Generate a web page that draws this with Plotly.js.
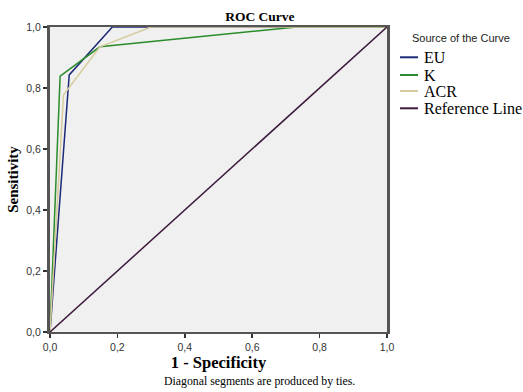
<!DOCTYPE html>
<html>
<head>
<meta charset="utf-8">
<script src="https://cdn.plot.ly/plotly-3.0.1.min.js"></script>
<style>html,body{margin:0;padding:0;background:#fff;}#chart{width:523px;height:392px;}</style>
</head>
<body>
<div id="chart"></div>
<script>
// ROC curve data (x = 1 - Specificity, y = Sensitivity)
const euX  = [0, 0.057, 0.185, 1];
const euY  = [0, 0.843, 1.0, 1];
const kX   = [0, 0.030, 0.148, 0.732, 1];
const kY   = [0, 0.839, 0.935, 1.0, 1];
const acrX = [0, 0.040, 0.148, 0.300, 1];
const acrY = [0, 0.777, 0.935, 1.0, 1];
const refX = [0, 1];
const refY = [0, 1];
const seriesNames = ["EU", "K", "ACR", "Reference Line"];
const tickVals = [0, 0.2, 0.4, 0.6, 0.8, 1.0];
const tickText = ["0,0", "0,2", "0,4", "0,6", "0,8", "1,0"];

const colors = ["#1c2a78", "#2a8c2a", "#d6cb9c", "#3d1a3d"];
const xs = [euX, kX, acrX, refX];
const ys = [euY, kY, acrY, refY];

const traces = seriesNames.map((n, i) => ({
  x: xs[i], y: ys[i], name: n, type: "scatter", mode: "lines",
  line: {color: colors[i], width: 1.5}, hoverinfo: "skip", showlegend: false
}));

const serif = "Liberation Serif, Times New Roman, serif";
const sans = "Liberation Sans, Arial, sans-serif";

// plot area geometry (pixels) used to place the hand-drawn legend
const W = 523, H = 392, L = 50, R = 136, T = 27, B = 60;
const pw = W - L - R, ph = H - T - B;
const px = p => (p - L) / pw;
const py = p => (H - B - p) / ph;

const legendRows = [57.3, 75, 91, 108.3];
const shapes = seriesNames.map((n, i) => ({
  type: "line", xref: "paper", yref: "paper",
  x0: px(400), x1: px(418), y0: py(legendRows[i]), y1: py(legendRows[i]),
  line: {color: colors[i], width: 2}
}));
const annotations = seriesNames.map((n, i) => ({
  text: n, xref: "paper", yref: "paper", x: px(422), y: py(legendRows[i]),
  xanchor: "left", yanchor: "middle", showarrow: false,
  font: {family: serif, size: 16, color: "#000"}
}));
annotations.push({
  text: "Source of the Curve", xref: "paper", yref: "paper", x: px(410), y: py(37.5),
  xanchor: "left", yanchor: "middle", showarrow: false,
  font: {family: sans, size: 11, color: "#222"}
});
annotations.push({
  text: "Diagonal segments are produced by ties.",
  xref: "paper", yref: "paper", x: px(259), y: py(381),
  xanchor: "center", yanchor: "middle", showarrow: false,
  font: {family: serif, size: 11.8, color: "#000"}
});

const layout = {
  width: W, height: H,
  margin: {l: L, r: R, t: T, b: B, pad: 0, autoexpand: false},
  paper_bgcolor: "#ffffff",
  plot_bgcolor: "#f0f0f0",
  showlegend: false,
  title: {text: "<b>ROC Curve</b>", font: {family: serif, size: 13.5, color: "#000"},
          xref: "container", x: 0.497, xanchor: "center", yref: "container", y: 1 - 16 / H, yanchor: "middle"},
  xaxis: {
    range: [0, 1], tickvals: tickVals, ticktext: tickText,
    ticks: "outside", ticklen: 4, tickwidth: 1.5, tickcolor: "#333",
    showgrid: false, zeroline: false,
    showline: true, linecolor: "#555", linewidth: 2, mirror: true,
    tickfont: {family: sans, size: 10.5, color: "#333"},
    title: {text: "<b>1 - Specificity</b>", font: {family: serif, size: 16.5, color: "#000"}, standoff: 3},
    fixedrange: true
  },
  yaxis: {
    range: [0, 1], tickvals: tickVals, ticktext: tickText,
    ticks: "outside", ticklen: 4, tickwidth: 1.5, tickcolor: "#333",
    showgrid: false, zeroline: false,
    showline: true, linecolor: "#555", linewidth: 3, mirror: true,
    tickfont: {family: sans, size: 10.5, color: "#333"},
    title: {text: "<b>Sensitivity</b>", font: {family: serif, size: 15, color: "#000"}, standoff: 5},
    fixedrange: true
  },
  shapes: shapes,
  annotations: annotations
};

Plotly.newPlot("chart", traces, layout, {staticPlot: true, displayModeBar: false});
</script>
</body>
</html>
